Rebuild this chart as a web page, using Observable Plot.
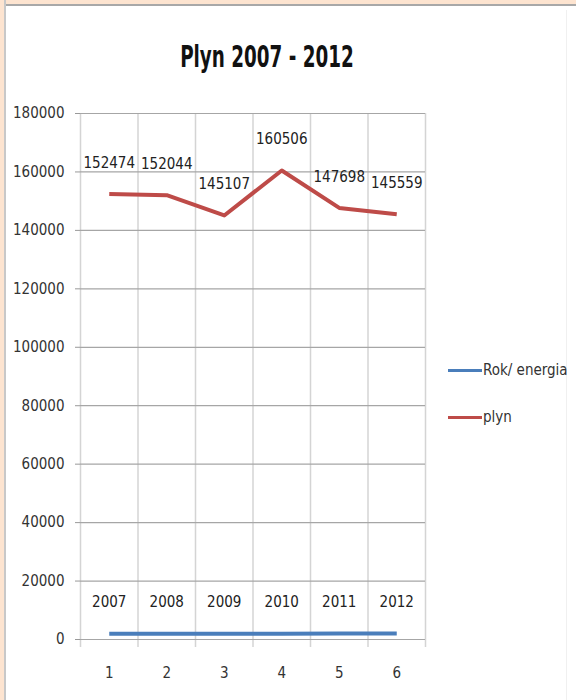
<!DOCTYPE html>
<html>
<head>
<meta charset="utf-8">
<script src="https://cdn.jsdelivr.net/npm/d3@7"></script>
<script src="https://cdn.jsdelivr.net/npm/@observablehq/plot@0.6"></script>
<style>
  html, body { margin: 0; padding: 0; background: #fff; }
  #frame {
    position: relative; width: 576px; height: 700px; box-sizing: border-box;
    background: #fff; overflow: hidden;
    font-family: "DejaVu Sans Condensed", "DejaVu Sans", sans-serif;
    font-stretch: condensed;
  }
  #frame svg, #frame svg text { font-stretch: condensed; }
  #edgeTop { position: absolute; left: 0; top: 0; width: 576px; height: 4px; background: #fde4d0; border-bottom: 2px solid #a8a8a8; }
  #edgeLeft { position: absolute; left: 0; top: 0; width: 4px; height: 700px; background: #fde4d0; border-right: 2px solid #c8c8c8; }
  #edgeRight { position: absolute; left: 566px; top: 10px; width: 1px; height: 690px; background: #f0f0f0; }
  #title { position: absolute; left: 0; width: 534px; top: 39px; text-align: center; font-weight: bold; font-size: 30px; color: #111; transform: scaleX(0.68); transform-origin: 267px 0; }
  #chart { position: absolute; left: 0; top: 0; }
  #legend { position: absolute; left: 448px; top: 358px; font-size: 15px; color: #333; white-space: nowrap; }
  .lg { display: flex; align-items: center; height: 24px; margin-bottom: 23px; }
  .sw { width: 34px; height: 3px; margin-right: 1px; }
</style>
</head>
<body>
<div id="frame">
  <div id="edgeTop"></div>
  <div id="edgeLeft"></div>
  <div id="edgeRight"></div>
  <div id="title">Plyn 2007 - 2012</div>
  <div id="chart"></div>
  <div id="legend"></div>
</div>
<script>
// ---- data ----
const categories = [1, 2, 3, 4, 5, 6];
const rokEnergia = [2007, 2008, 2009, 2010, 2011, 2012];
const plyn = [152474, 152044, 145107, 160506, 147698, 145559];
const seriesNames = ["Rok/ energia", "plyn"];
const seriesColors = ["#4a7ebb", "#be4b48"];
const yTicks = [0, 20000, 40000, 60000, 80000, 100000, 120000, 140000, 160000, 180000];

const rows = [];
categories.forEach((c, i) => {
  rows.push({cat: c, value: rokEnergia[i], series: seriesNames[0]});
  rows.push({cat: c, value: plyn[i], series: seriesNames[1]});
});
const boundaries = categories.map(c => c - 0.5).concat([categories[categories.length - 1] + 0.5]);
const yMax = yTicks[yTicks.length - 1];

const font = `"DejaVu Sans Condensed", "DejaVu Sans", sans-serif`;

const chart = Plot.plot({
  width: 576,
  height: 700,
  marginLeft: 80,
  marginRight: 151,
  marginTop: 113,
  marginBottom: 61,
  style: {fontFamily: font, fontSize: "15px", color: "#333", background: "transparent"},
  x: {type: "linear", domain: [boundaries[0], boundaries[boundaries.length - 1]]},
  y: {type: "linear", domain: [0, yMax]},
  marks: [
    Plot.ruleX(boundaries, {x: d => d, y1: () => yMax, y2: () => 0, insetBottom: -8, stroke: "#d4d4d4", strokeWidth: 1.5}),
    Plot.ruleY(yTicks, {y: d => d, stroke: "#a6a6a6", strokeWidth: 1.2}),
    Plot.axisY({ticks: yTicks, tickFormat: d3.format("d"), tickSize: 5, tickPadding: 11, stroke: "#999", fill: "#333", label: null}),
    Plot.axisX({ticks: categories, tickFormat: d => String(d), tickSize: 0, tickPadding: 28, fill: "#333", label: null}),
    Plot.line(rows, {x: "cat", y: "value", z: "series", stroke: d => seriesColors[seriesNames.indexOf(d.series)], strokeWidth: 4, strokeLinejoin: "round", strokeLinecap: "butt"}),
    Plot.text(rows, {x: "cat", y: "value", text: d => String(d.value), dy: -31, fill: "#222", fontSize: 15})
  ]
});
document.getElementById("chart").appendChild(chart);

const legend = document.getElementById("legend");
seriesNames.forEach((name, i) => {
  const row = document.createElement("div");
  row.className = "lg";
  const sw = document.createElement("div");
  sw.className = "sw";
  sw.style.background = seriesColors[i];
  const t = document.createElement("span");
  t.textContent = name;
  row.appendChild(sw);
  row.appendChild(t);
  legend.appendChild(row);
});
</script>
</body>
</html>
